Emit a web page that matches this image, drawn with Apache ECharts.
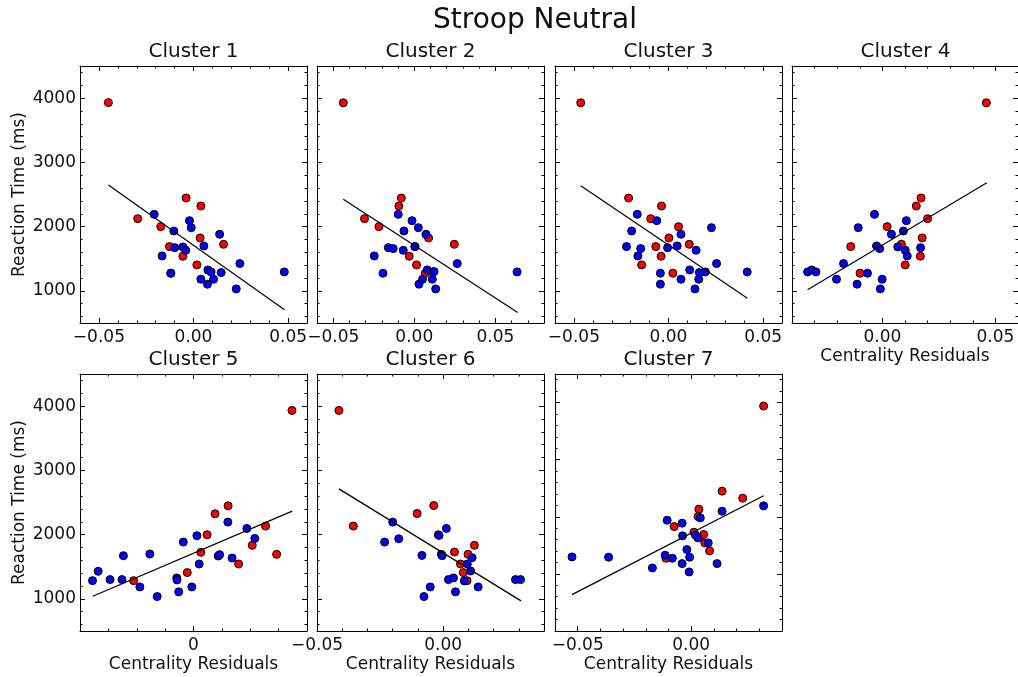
<!DOCTYPE html>
<html><head><meta charset="utf-8">
<script src="https://cdn.jsdelivr.net/npm/echarts@6/dist/echarts.min.js"></script>
<style>html,body{margin:0;padding:0;background:#fff}#c{width:1018px;height:677px}</style>
</head><body><div id="c"></div>
<script>
// ---------------- data ----------------
const mainTitle = 'Stroop Neutral';
const clusterNames = ['Cluster 1','Cluster 2','Cluster 3','Cluster 4','Cluster 5','Cluster 6','Cluster 7'];
const yAxisTitle = 'Reaction Time (ms)';
const xAxisTitle = 'Centrality Residuals';

const c1Red = [[-0.045,3930],[-0.0295,2124],[-0.0173,2000],[-0.0127,1689],[-0.0056,1539],[-0.0039,2445],[0.0039,2321],[0.0035,1824],[0.0018,1404],[0.0159,1725],[-0.012,1275]];
const c1Blue = [[-0.0208,2191],[-0.0166,1544],[-0.012,1275],[-0.0104,1932],[-0.0099,1673],[-0.0056,1684],[-0.0041,1632],[-0.0021,2093],[-0.0012,1984],[0.0055,1699],[0.0039,1181],[0.0076,1326],[0.0093,1295],[0.0074,1104],[0.0106,1181],[0.0146,1285],[0.0138,1881],[0.0245,1425],[0.0226,1031],[0.048,1295]];
const c1Fit = [[-0.045,2647],[0.0481,705]];

const c2Red = [[-0.0438,3927],[-0.0307,2124],[-0.0218,2000],[-0.008,2445],[-0.0095,2321],[0.0088,1824],[-0.0031,1539],[0.0014,1404],[0.0068,1275],[0.0247,1725],[0.0004,1689]];
const c2Blue = [[-0.0099,2191],[-0.0014,2093],[0.0025,1984],[-0.0064,1932],[0.0072,1881],[-0.016,1673],[-0.013,1658],[0.0004,1689],[-0.0068,1632],[-0.0247,1544],[-0.0193,1275],[0.008,1326],[0.0113,1295],[0.0122,1300],[0.0051,1181],[0.0111,1181],[0.0029,1104],[0.0132,1031],[0.0265,1425],[0.0634,1295]];
const c2Fit = [[-0.0438,2425],[0.0638,663]];

const c3Red = [[-0.0464,3927],[-0.0211,2445],[-0.0037,2321],[-0.0094,2124],[0.0053,2000],[0.0002,1824],[-0.0067,1689],[0.011,1725],[-0.0039,1539],[-0.0142,1404],[0.0023,1275]];
const c3Blue = [[-0.0165,2191],[-0.0062,2093],[0.0227,1984],[-0.0195,1932],[0.0066,1881],[-0.0222,1689],[-0.0147,1658],[-0.0005,1673],[0.0046,1699],[0.0146,1632],[-0.0162,1544],[-0.0043,1275],[0.0112,1326],[0.0163,1285],[0.0195,1295],[0.0066,1181],[0.016,1181],[-0.0043,1104],[0.014,1031],[0.0254,1425],[0.0416,1295]];
const c3Fit = [[-0.0464,2637],[0.0417,886]];

const c4Red = [[0.046,3927],[0.0171,2445],[0.015,2321],[0.02,2124],[0.0021,2000],[0.0176,1824],[-0.014,1689],[0.0084,1725],[0.0168,1539],[0.0101,1404],[-0.0099,1275]];
const c4Blue = [[-0.0035,2191],[0.0106,2093],[-0.0107,1984],[0.0093,1932],[0.004,1881],[-0.0026,1699],[-0.0012,1658],[0.0068,1684],[0.0101,1632],[0.011,1544],[0.0169,1673],[-0.0172,1425],[-0.0331,1295],[-0.0313,1326],[-0.0294,1295],[-0.0203,1181],[-0.0066,1275],[-0.0112,1104],[-0.0001,1181],[-0.0009,1031]];
const c4Fit = [[-0.0331,1016],[0.0462,2684]];

const c5Red = [[0.0347,3933],[0.0122,2448],[0.0076,2324],[0.0254,2133],[0.0048,1998],[0.0207,1833],[0.0026,1724],[0.0293,1693],[0.0159,1543],[-0.0022,1409],[-0.0211,1284]];
const c5Blue = [[0.0121,2195],[0.0188,2096],[0.0012,1983],[0.0216,1941],[-0.0036,1884],[-0.0247,1672],[-0.0154,1698],[0.0087,1667],[0.0092,1688],[0.0136,1636],[0.002,1543],[-0.0336,1429],[-0.0356,1284],[-0.0294,1300],[-0.0252,1300],[-0.0059,1326],[-0.0058,1295],[-0.0189,1186],[-0.0006,1186],[-0.0052,1109],[-0.0128,1036]];
const c5Fit = [[-0.0355,1041],[0.0348,2365]];

const c6Red = [[-0.0413,3933],[-0.0356,2133],[-0.0103,2329],[-0.0037,2453],[0.0124,1833],[0.0045,1729],[0.0099,1693],[0.0069,1543],[0.008,1409],[0.0095,1284],[-0.0019,1998]];
const c6Blue = [[-0.02,2195],[0.0013,2096],[-0.0016,1988],[-0.0176,1936],[-0.0232,1884],[-0.0084,1677],[-0.0007,1693],[-0.0004,1672],[0.0115,1641],[0.0096,1543],[0.0109,1434],[0.0021,1300],[0.0041,1326],[0.0084,1279],[0.0287,1300],[0.0307,1300],[0.0139,1186],[-0.0051,1186],[0.0049,1109],[-0.0076,1036]];
const c6Fit = [[-0.0413,2712],[0.0309,969]];

const c7Red = [[0.0319,3939],[0.0136,2449],[0.0227,2326],[0.0034,2133],[0.003,2004],[-0.0075,1829],[0.0012,1730],[0.0055,1689],[0.006,1543],[0.0081,1403],[-0.0111,1274]];
const c7Blue = [[0.0319,2191],[0.0136,2098],[0.004,1981],[-0.0106,1940],[-0.004,1888],[0.0019,1677],[-0.0038,1666],[0.003,1630],[0.0075,1543],[-0.0019,1426],[-0.0525,1297],[-0.0364,1292],[-0.0115,1327],[-0.0083,1274],[-0.0007,1292],[0.0114,1180],[-0.004,1180],[-0.0171,1104],[-0.0009,1034]];
const c7Fit = [[-0.0525,637],[0.0319,2367]];

// axis ranges per cluster
const xRanges = [[-0.06,0.06],[-0.06,0.08],[-0.06,0.06],[-0.04,0.06],[-0.04,0.04],[-0.05,0.04],[-0.06,0.04]];
const yRanges = [[500,4500],[500,4500],[500,4500],[500,4500],[500,4500],[500,4500],[0,4500]];

// tick values
const xMajorTicks = [-0.05, 0, 0.05];
const xMinorTicks = [-0.06,-0.05,-0.04,-0.03,-0.02,-0.01,0,0.01,0.02,0.03,0.04,0.05,0.06,0.07,0.08];
const yMajorTicks = [0,1000,2000,3000,4000];
const yMinorTicks = [0,200,400,600,800,1000,1200,1400,1600,1800,2000,2200,2400,2600,2800,3000,3200,3400,3600,3800,4000,4200,4400];

// ---------------- layout / style ----------------
const reds = [c1Red,c2Red,c3Red,c4Red,c5Red,c6Red,c7Red];
const blues = [c1Blue,c2Blue,c3Blue,c4Blue,c5Blue,c6Blue,c7Blue];
const fits = [c1Fit,c2Fit,c3Fit,c4Fit,c5Fit,c6Fit,c7Fit];
const gridLefts = [80,317,555,792,80,317,555];
const gridTops = [66,66,66,66,374,374,374];
const GW = 227, GH = 257;
const FONT = 'DejaVu Sans';
const TXT = '#111';
const showYLabels = [true,false,false,false,true,false,false];
const showXName = [false,false,false,true,true,true,true];

function inRange(vals, r){ return vals.filter(v => v >= r[0]-1e-9 && v <= r[1]+1e-9); }
function fmtX(v){ const s = Math.abs(v) < 1e-9 ? '0.00' : v.toFixed(2); return s.replace('-', '\u2212'); }

const grids = [], xAxes = [], yAxes = [], series = [], graphics = [];
graphics.push({type:'text', x:535, y:21, style:{text:mainTitle, align:'center', verticalAlign:'middle', font:'28px "DejaVu Sans"', fill:TXT}});

for (let i = 0; i < 7; i++) {
  grids.push({left:gridLefts[i], top:gridTops[i], width:GW, height:GH, containLabel:false});
  graphics.push({type:'text', x:gridLefts[i]+GW/2, y:gridTops[i]-14, style:{text:clusterNames[i], align:'center', verticalAlign:'middle', font:'20px "DejaVu Sans"', fill:TXT}});
  const xr = xRanges[i], yr = yRanges[i];
  const xMaj = inRange(xMajorTicks, xr), xMin = inRange(xMinorTicks, xr);
  const yMaj = inRange(yMajorTicks, yr), yMin = inRange(yMinorTicks, yr);
  const lineOn = {show:true, onZero:false, lineStyle:{color:'#000', width:1}};
  const lineOff = {show:false, onZero:false};
  const mkX = (pos, ticks, len, line, labels) => ({
    type:'value', gridIndex:i, position:pos, min:xr[0], max:xr[1],
    splitLine:{show:false}, axisLine: line,
    axisTick:{show:true, inside:true, length:len, customValues:ticks, lineStyle:{color:'#000', width:1}},
    axisLabel: labels || {show:false}
  });
  const mkY = (pos, ticks, len, line, labels) => ({
    type:'value', gridIndex:i, position:pos, min:yr[0], max:yr[1],
    splitLine:{show:false}, axisLine: line,
    axisTick:{show:true, inside:true, length:len, customValues:ticks, lineStyle:{color:'#000', width:1}},
    axisLabel: labels || {show:false}
  });
  const xLab = {show:true, customValues:xMaj, margin:6, fontSize:17, fontFamily:FONT, color:TXT,
    formatter: (i === 4) ? (v => (Math.abs(v) < 1e-9 ? '0' : fmtX(v))) : fmtX};
  const xMain = mkX('bottom', xMaj, 5, lineOn, xLab);
  if (showXName[i]) {
    xMain.name = xAxisTitle; xMain.nameLocation = 'middle'; xMain.nameGap = 25;
    xMain.nameTextStyle = {fontSize:17, fontFamily:FONT, color:TXT};
  }
  xAxes.push(xMain, mkX('top', xMaj, 5, lineOn), mkX('bottom', xMin, 2.5, lineOff), mkX('top', xMin, 2.5, lineOff));
  const yLab = showYLabels[i] ? {show:true, customValues:yMaj.filter(v=>v>0), margin:4, fontSize:17, fontFamily:FONT, color:TXT, formatter: v => String(Math.round(v))} : null;
  const yMain = mkY('left', yMaj, 5, lineOn, yLab);
  if (showYLabels[i]) {
    yMain.name = yAxisTitle; yMain.nameLocation = 'middle'; yMain.nameGap = 52;
    yMain.nameTextStyle = {fontSize:17, fontFamily:FONT, color:TXT};
  }
  yAxes.push(yMain, mkY('right', yMaj, 5, lineOn), mkY('left', yMin, 2.5, lineOff), mkY('right', yMin, 2.5, lineOff));
  const xi = 4*i, yi = 4*i;
  series.push({type:'scatter', xAxisIndex:xi, yAxisIndex:yi, data:reds[i], symbol:'circle', symbolSize:8,
    itemStyle:{color:'#ff0000', borderColor:'#000', borderWidth:1, opacity:1}, z:2, silent:true});
  series.push({type:'scatter', xAxisIndex:xi, yAxisIndex:yi, data:blues[i], symbol:'circle', symbolSize:8,
    itemStyle:{color:'#0000ff', borderColor:'#000', borderWidth:1, opacity:1}, z:3, silent:true});
  series.push({type:'line', xAxisIndex:xi, yAxisIndex:yi, data:fits[i], showSymbol:false, symbol:'none',
    lineStyle:{color:'#000', width:1.2}, z:4, silent:true});
}

const chart = echarts.init(document.getElementById('c'), null, {renderer:'canvas'});
chart.setOption({
  animation:false, backgroundColor:'#fff',
  textStyle:{fontFamily:FONT},
  grid:grids, xAxis:xAxes, yAxis:yAxes, series:series, graphic:graphics
});
</script></body></html>
